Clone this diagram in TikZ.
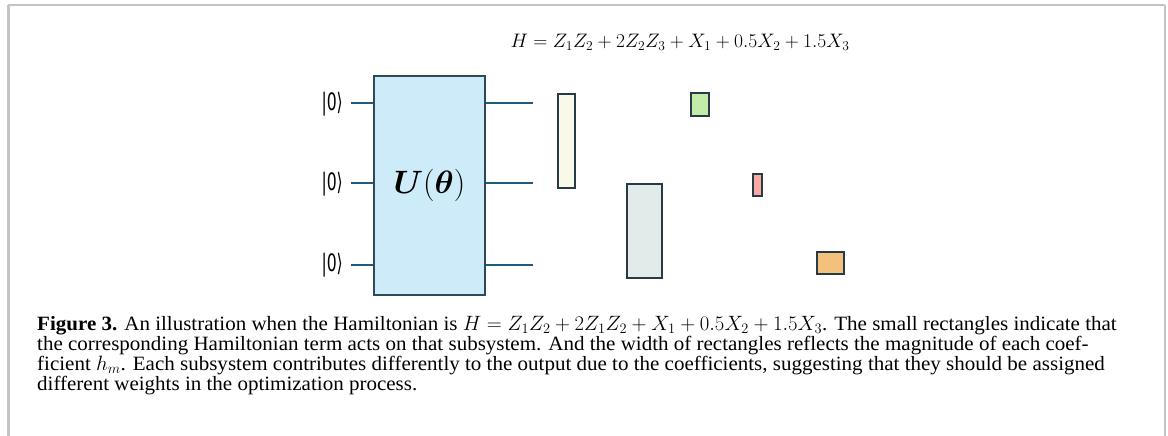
\documentclass[tikz,border=0pt]{standalone}
\usepackage{bm}
\usepackage{fontspec}
\setmainfont{Liberation Serif}[FakeStretch=1.035]
\newfontfamily\ketfont{DejaVu Sans}
\definecolor{framec}{HTML}{C4C4C4}
\definecolor{gatefill}{HTML}{CDEBF9}
\definecolor{gatedraw}{HTML}{2E4A57}
\definecolor{wirec}{HTML}{1B5E80}
\definecolor{termdraw}{HTML}{263B45}
\definecolor{cA}{HTML}{F8F9E9}
\definecolor{cB}{HTML}{E2EBEA}
\definecolor{cC}{HTML}{C4EBA7}
\definecolor{cD}{HTML}{FBA9A3}
\definecolor{cE}{HTML}{F4C07E}
\tikzset{
  gate/.style={draw=gatedraw, fill=gatefill, line width=2pt, inner sep=0pt,
    minimum width=111pt, minimum height=219pt},
  wire/.style={draw=wirec, line width=2pt},
  term/.style={draw=termdraw, line width=2pt, inner sep=0pt},
  ket/.style={font=\ketfont\fontsize{24}{24}\selectfont, inner sep=0pt, anchor=east},
  captext/.style={font=\fontsize{20.3}{20}\selectfont, inner sep=0pt, anchor=base west},
}
\begin{document}
\begin{tikzpicture}[x=1pt,y=-1pt]
\useasboundingbox (0,0) rectangle (1168,436);
% frame
\draw[framec, line width=1.5pt] (8,5) -- (1165,5);
\draw[framec, line width=2.5pt] (8.7,5) -- (8.7,436);
\draw[framec, line width=2.5pt] (1165,5) -- (1165,436);
% Hamiltonian
\node[inner sep=0pt, anchor=base, font=\LARGE] (ham) at (680,48)
  {\scalebox{1.13}{$H = Z_1Z_2 + 2Z_2Z_3 + X_1 + 0.5X_2 + 1.5X_3$}};
% gate
\node[gate] (U) at (429.5,185.3) {\scalebox{1.3}{\Huge$\bm{U}(\bm{\theta})$}};
% kets
\node[ket] (k1) at (343,104) {\scalebox{0.65}[1]{|0⟩}};
\node[ket] (k2) at (343,184) {\scalebox{0.65}[1]{|0⟩}};
\node[ket] (k3) at (343,265) {\scalebox{0.65}[1]{|0⟩}};
\coordinate (i1) at (351,103.3);
\coordinate (i2) at (351,183.3);
\coordinate (i3) at (351,264.7);
\coordinate (o1) at (533,103.3);
\coordinate (o2) at (533,183.3);
\coordinate (o3) at (533,264.7);
\draw[wire] (i1) -- (U.west |- i1);
\draw[wire] (i2) -- (U.west |- i2);
\draw[wire] (i3) -- (U.west |- i3);
\draw[wire] (U.east |- o1) -- (o1);
\draw[wire] (U.east |- o2) -- (o2);
\draw[wire] (U.east |- o3) -- (o3);
% term rectangles
\node[term, fill=cA, minimum width=16.4pt, minimum height=94pt] (r1) at (566.5,140.7) {};
\node[term, fill=cB, minimum width=35pt, minimum height=94.6pt] (r2) at (644.5,231) {};
\node[term, fill=cC, minimum width=17.4pt, minimum height=22.7pt] (r3) at (700,104.3) {};
\node[term, fill=cD, minimum width=8.4pt, minimum height=22pt] (r4) at (757.5,184.7) {};
\node[term, fill=cE, minimum width=27.3pt, minimum height=22pt] (r5) at (830.7,263.3) {};
% caption
\node[captext] (cap1) at (37,330.7) {\textbf{Figure 3.} An illustration when the Hamiltonian is $H = Z_1Z_2 + 2Z_1Z_2 + X_1 + 0.5X_2 + 1.5X_3$. The small rectangles indicate that};
\node[captext] (cap2) at (37,350.7) {the corresponding Hamiltonian term acts on that subsystem. And the width of rectangles reflects the magnitude of each coef-};
\node[captext] (cap3) at (37,370.7) {ficient $h_m$. Each subsystem contributes differently to the output due to the coefficients, suggesting that they should be assigned};
\node[captext] (cap4) at (37,390.7) {different weights in the optimization process.};
\end{tikzpicture}
\end{document}
